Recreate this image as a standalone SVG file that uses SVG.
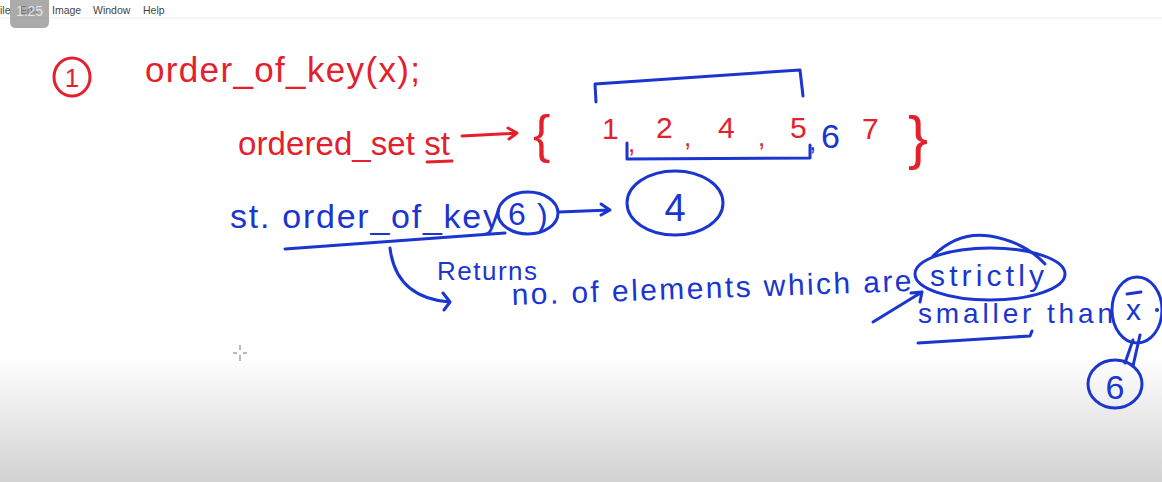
<svg xmlns="http://www.w3.org/2000/svg" width="1162" height="482" viewBox="0 0 1162 482">
<defs>
<linearGradient id="bg" x1="0" y1="0" x2="0" y2="1">
<stop offset="0" stop-color="#ffffff"/>
<stop offset="0.74" stop-color="#ffffff"/>
<stop offset="1" stop-color="#d2d2d2"/>
</linearGradient>
<style>
.r{fill:#e3202c;font-family:"Liberation Sans",Arial,sans-serif}
.b{fill:#1a35d0;font-family:"Liberation Sans",Arial,sans-serif}
.rs{fill:none;stroke:#e3202c;stroke-width:3;stroke-linecap:round;stroke-linejoin:round}
.bs{fill:none;stroke:#1a35d0;stroke-width:3;stroke-linecap:round;stroke-linejoin:round}
.menu{fill:#444;font-family:"Liberation Sans",Arial,sans-serif;font-size:10.5px}
</style>
</defs>
<rect width="1162" height="482" fill="url(#bg)"/>
<g id="menubar">
<line x1="0" y1="18" x2="1162" y2="18" stroke="#ececec" stroke-width="1"/>
<text class="menu" x="0" y="14">ile</text>
<text class="menu" x="20" y="14">Edit</text>
<text class="menu" x="52" y="14">Image</text>
<text class="menu" x="93" y="14">Window</text>
<text class="menu" x="143" y="14">Help</text>
<path d="M10,0 H49 V22 Q49,28 43,28 H16 Q10,28 10,22 Z" fill="#888" fill-opacity="0.7"/>
<text x="29.5" y="16" text-anchor="middle" font-family="Liberation Sans,Arial,sans-serif" font-size="14" fill="#eeeeee" fill-opacity="0.9">1.25</text>
</g>
<g id="cursor" stroke="#777" stroke-width="1">
<line x1="240" y1="345" x2="240" y2="350"/><line x1="240" y1="355" x2="240" y2="361"/>
<line x1="233" y1="353" x2="237" y2="353"/><line x1="243" y1="353" x2="247" y2="353"/>
</g>
<g id="title">
<ellipse class="rs" cx="72" cy="77" rx="18" ry="19"/>
<text class="r" x="72" y="87" font-size="26" text-anchor="middle">1</text>
<text class="r" x="145" y="82" font-size="35" textLength="275" lengthAdjust="spacing">order_of_key(x);</text>
</g>
<g id="ordered-set">
<text class="r" x="238" y="155" font-size="33" textLength="212" lengthAdjust="spacing">ordered_set st</text>
<line class="rs" x1="427" y1="162" x2="452" y2="161"/>
</g>
<g id="set-values">
<text class="r" x="533" y="152" font-size="52">{</text>
<text class="r" x="602" y="139" font-size="30">1</text>
<text class="r" x="628" y="152" font-size="26">,</text>
<text class="r" x="656" y="138" font-size="30">2</text>
<text class="r" x="684" y="146" font-size="26">,</text>
<text class="r" x="718" y="138" font-size="30">4</text>
<text class="r" x="758" y="146" font-size="26">,</text>
<text class="r" x="790" y="138" font-size="30">5</text>
<text class="b" x="809" y="150" font-size="26">,</text>
<text class="b" x="821" y="148" font-size="34">6</text>
<text class="r" x="862" y="139" font-size="30">7</text>
<text class="r" x="908" y="158" font-size="60">}</text>
<path class="bs" d="M596,102 L595,84 L800,70 L803,96"/>
<path class="bs" d="M627,143 L627,159 L810,158 L810,145"/>
</g>
<g id="call">
<text class="b" x="230" y="228" font-size="34" textLength="270" lengthAdjust="spacing">st. order_of_key</text>
<ellipse class="bs" cx="528" cy="213" rx="30" ry="21"/>
<text class="b" x="508" y="225" font-size="32">6</text>
<text class="b" x="537" y="226" font-size="32">)</text>
<path class="bs" d="M285,249 L505,233"/>
</g>
<g id="result">
<ellipse class="bs" cx="675" cy="203" rx="48" ry="32"/>
<text class="b" x="675" y="221" font-size="38" text-anchor="middle">4</text>
</g>
<g id="explanation">
<text class="b" x="437" y="280" font-size="26" textLength="100" lengthAdjust="spacing">Returns</text>
<text class="b" x="512" y="305" font-size="30" textLength="400" lengthAdjust="spacing" transform="rotate(-2 512 305)">no. of elements which are</text>
</g>
<g id="strictly">
<ellipse class="bs" cx="990" cy="274" rx="75" ry="26"/>
<path class="bs" d="M933,256 Q958,231 990,236 Q1025,242 1045,264"/>
<text class="b" x="930" y="286" font-size="30" textLength="114" lengthAdjust="spacing">strictly</text>
</g>
<g id="smaller-than">
<text class="b" x="918" y="323" font-size="28" textLength="195" lengthAdjust="spacing">smaller than</text>
<path class="bs" d="M918,343 L1030,336 L1032,331"/>
</g>
<g id="x-node">
<ellipse class="bs" cx="1137" cy="310" rx="25" ry="33"/>
<text class="b" x="1126" y="320" font-size="30">x</text>
<line class="bs" x1="1127" y1="294" x2="1141" y2="292"/>
<circle cx="1157" cy="310" r="2" fill="#1a35d0"/>
</g>
<g id="six-node">
<ellipse class="bs" cx="1115" cy="384" rx="27" ry="24"/>
<text class="b" x="1115" y="399" font-size="34" text-anchor="middle">6</text>
</g>
<g id="connectors">
<path class="rs" d="M462,136 L517,133 M508,128 L517,133 L509,139"/>
<path class="bs" d="M559,212 L610,210 M601,204 L610,210 L601,215"/>
<path class="bs" d="M390,248 Q396,298 450,302 M443,293 L450,302 L444,310"/>
<path class="bs" d="M873,322 L922,292 M911,293 L922,292 L920,302"/>
<path class="bs" d="M1140,335 L1133,366 M1133,340 L1125,363"/>
</g>
</svg>
